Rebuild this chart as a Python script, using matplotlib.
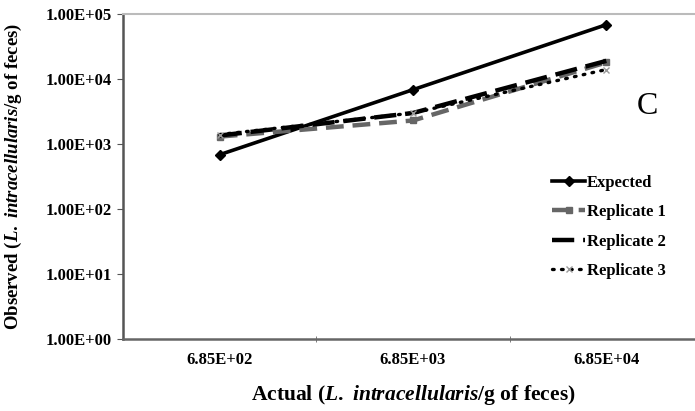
import numpy as np
from matplotlib import pyplot as plt

plt.rcParams['font.family'] = 'Liberation Serif'
plt.rcParams['font.weight'] = 'bold'
plt.rcParams['mathtext.fontset'] = 'custom'
plt.rcParams['mathtext.rm'] = 'Liberation Serif:bold'
plt.rcParams['mathtext.it'] = 'Liberation Serif:bold:italic'

categorias = ['6.85E+02', '6.85E+03', '6.85E+04']
esperado = [685, 6850, 68500]
replica1 = [1300, 2300, 18000]
replica2 = [1350, 3000, 19000]
replica3 = [1400, 3000, 14000]

x = np.arange(len(categorias))

fig = plt.figure(figsize=(6.95, 4.11), dpi=100)
ax = fig.add_axes([123/695, 1 - 339/411, 580/695, 325/411])

ax.plot(x, esperado, color='black', lw=2.6, marker='D', ms=5, label='Expected')
ax.plot(x, replica1, color='#666666', lw=3.2, ls=(0, (4, 2)), marker='s', ms=4,
        label='Replicate 1')
ax.plot(x, replica2, color='black', lw=3.2, ls=(0, (5, 2)), label='Replicate 2')
ax.plot(x, replica3, color='black', lw=2.4, ls=(0, (0.5, 2.2)), dash_capstyle='round',
        marker='x', ms=4, mec='#999999', label='Replicate 3')

ax.set_yscale('log')
ax.set_ylim(1, 1e5)
ax.set_xlim(-0.5, 2.5)
ax.set_yticks([1, 10, 100, 1e3, 1e4, 1e5])
ax.set_yticklabels(['1.00E+00', '1.00E+01', '1.00E+02', '1.00E+03', '1.00E+04', '1.00E+05'])
ax.yaxis.set_minor_locator(plt.NullLocator())
ax.set_xticks(x)
ax.set_xticklabels(categorias)
ax.set_xticks([0.5, 1.5], minor=True)
ax.tick_params(axis='x', which='major', length=0, pad=9, labelsize=12)
ax.tick_params(axis='x', which='minor', length=4, direction='inout', color='#666666')
ax.tick_params(axis='y', length=4, color='#555555', labelsize=12, pad=4)

ax.spines['right'].set_visible(False)
ax.spines['top'].set_color('#bbbbbb')
ax.spines['top'].set_linewidth(1.5)
ax.spines['left'].set_color('#555555')
ax.spines['left'].set_linewidth(1.8)
ax.spines['bottom'].set_color('#666666')
ax.spines['bottom'].set_linewidth(1.8)

ax.set_xlabel(r'$\mathrm{Actual\ (}\mathit{L.}\mathrm{\ }\mathit{intracellularis}\mathrm{/g\ of\ feces)}$',
              fontsize=15.5, labelpad=11)
ax.set_ylabel(r'$\mathrm{Observed\ (}\mathit{L.}\mathrm{\ }\mathit{intracellularis}\mathrm{/g\ of\ feces)}$',
              fontsize=13.5)
ax.yaxis.set_label_coords(24/695, 1 - 176/411, transform=fig.transFigure)

fig.text(647/695, 1 - 106/411, 'C', fontsize=23, fontweight='normal',
         ha='center', va='center')

fig.legend(loc='upper left', bbox_to_anchor=(537/695, 1 - 160/411), frameon=False,
           fontsize=12, handlelength=2.0, handletextpad=0.1, labelspacing=0.8)

plt.savefig('out.png', dpi=100)
